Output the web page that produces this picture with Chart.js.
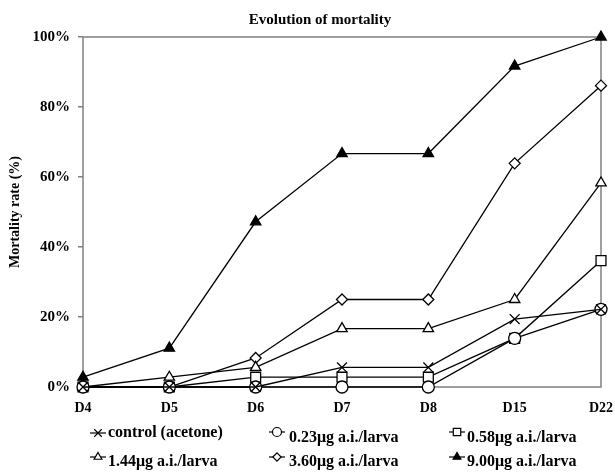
<!DOCTYPE html>
<html lang="en">
<head>
  <meta charset="UTF-8" />
  <title>Evolution of mortality</title>
  <script src="https://cdn.jsdelivr.net/npm/chart.js"></script>
  <style>
    html, body { margin: 0; padding: 0; background: #fff; }
    #wrap { width: 615px; height: 475px; }
  </style>
</head>
<body>
  <div id="wrap"><canvas id="mortalityChart" width="615" height="475"></canvas></div>

  <script>
    // Sampling days (x categories)
    const days = ["D4", "D5", "D6", "D7", "D8", "D15", "D22"];

    // Mortality rate (%) per treatment
    const control = [0, 0, 0, 5.6, 5.6, 19.4, 22.2];
    const dose023 = [0, 0, 0, 0, 0, 13.9, 22.2];
    const dose058 = [0, 0, 2.8, 2.8, 2.8, 13.9, 36.1];
    const dose144 = [0, 2.8, 5.6, 16.7, 16.7, 25, 58.3];
    const dose360 = [0, 0, 8.3, 25, 25, 63.9, 86.1];
    const dose900 = [2.8, 11.1, 47.2, 66.7, 66.7, 91.7, 100];

    const seriesLabels = [
      "control (acetone)",
      "0.23\u03bcg a.i./larva",
      "0.58\u03bcg a.i./larva",
      "1.44\u03bcg a.i./larva",
      "3.60\u03bcg a.i./larva",
      "9.00\u03bcg a.i./larva"
    ];

    const FONT = "'Liberation Serif', 'Times New Roman', serif";
    const FRAME = "#808080";
    Chart.defaults.font.family = FONT;
    Chart.defaults.color = "#000";

    // marker look per series
    const markers = [
      { style: "crossRot", radius: 7, fill: "#fff" },
      { style: "circle", radius: 6, fill: "#fff" },
      { style: "rect", radius: 7, fill: "#fff" },
      { style: "triangle", radius: 6, fill: "#fff" },
      { style: "rectRot", radius: 5.5, fill: "#fff" },
      { style: "triangle", radius: 6, fill: "#000" }
    ];

    const values = [control, dose023, dose058, dose144, dose360, dose900];

    const datasets = values.map((data, i) => ({
      label: seriesLabels[i],
      data: data,
      borderColor: "#000",
      borderWidth: 1.3,
      backgroundColor: markers[i].fill,
      pointStyle: markers[i].style,
      pointRadius: markers[i].radius,
      pointHoverRadius: markers[i].radius,
      pointBackgroundColor: markers[i].fill,
      pointBorderColor: "#000",
      pointBorderWidth: 1.3,
      tension: 0,
      fill: false,
      clip: false
    }));

    // Gray frame around the plot area
    const framePlugin = {
      id: "frame",
      beforeDatasetsDraw(chart) {
        const { ctx, chartArea: a } = chart;
        ctx.save();
        ctx.strokeStyle = FRAME;
        ctx.lineWidth = 1.5;
        ctx.strokeRect(a.left, a.top, a.right - a.left, a.bottom - a.top);
        ctx.restore();
      }
    };

    // Title plus a 3-column legend laid out like the original
    const legendSlots = [
      { x: 98, tx: 108, y: 433, ty: 433 },
      { x: 277, tx: 289, y: 432, ty: 438 },
      { x: 457, tx: 467, y: 432, ty: 438 },
      { x: 98, tx: 108, y: 457, ty: 462 },
      { x: 277, tx: 289, y: 457, ty: 462 },
      { x: 457, tx: 467, y: 457, ty: 462 }
    ];

    const textPlugin = {
      id: "textBits",
      afterDraw(chart) {
        const ctx = chart.ctx;
        ctx.save();
        ctx.fillStyle = "#000";
        ctx.font = "bold 15px " + FONT;
        ctx.textAlign = "center";
        ctx.textBaseline = "middle";
        ctx.fillText("Evolution of mortality", 320, 20);

        seriesLabels.forEach((label, i) => {
          const s = legendSlots[i];
          ctx.strokeStyle = "#000";
          ctx.lineWidth = 1.2;
          ctx.beginPath();
          ctx.moveTo(s.x - 8, s.y);
          ctx.lineTo(s.x + 8, s.y);
          ctx.stroke();
          ctx.fillStyle = markers[i].fill;
          Chart.helpers.drawPoint(ctx, {
            pointStyle: markers[i].style,
            radius: markers[i].radius * 0.75,
            borderWidth: 1.2,
            rotation: 0
          }, s.x, s.y);
          ctx.fillStyle = "#000";
          ctx.font = "bold 16px " + FONT;
          ctx.textAlign = "left";
          ctx.textBaseline = "middle";
          ctx.fillText(label, s.tx, s.ty);
        });
        ctx.restore();
      }
    };

    new Chart(document.getElementById("mortalityChart"), {
      type: "line",
      data: { labels: days, datasets: datasets },
      options: {
        responsive: false,
        animation: false,
        layout: { padding: { top: 37, right: 14, bottom: 48, left: 0 } },
        plugins: {
          legend: { display: false },
          title: { display: false },
          tooltip: { enabled: false }
        },
        scales: {
          x: {
            offset: false,
            grid: { display: false },
            border: { display: false },
            ticks: {
              padding: 5,
              maxRotation: 0,
              font: { size: 14, weight: "bold" }
            },
            afterFit(scale) {
              scale.height = 40;
              scale.paddingLeft = 0;
              scale.paddingRight = 0;
            }
          },
          y: {
            min: 0,
            max: 100,
            grid: {
              drawOnChartArea: false,
              drawTicks: true,
              tickLength: 5,
              color: FRAME,
              lineWidth: 1.5
            },
            border: { display: false },
            ticks: {
              stepSize: 20,
              padding: 8,
              font: { size: 15, weight: "bold" },
              callback: (v) => v + "%"
            },
            title: {
              display: true,
              text: "Mortality rate (%)",
              font: { size: 14, weight: "bold" },
              padding: { top: 7, bottom: 0 }
            },
            afterFit(scale) { scale.width = 83; }
          }
        }
      },
      plugins: [framePlugin, textPlugin]
    });
  </script>
</body>
</html>
